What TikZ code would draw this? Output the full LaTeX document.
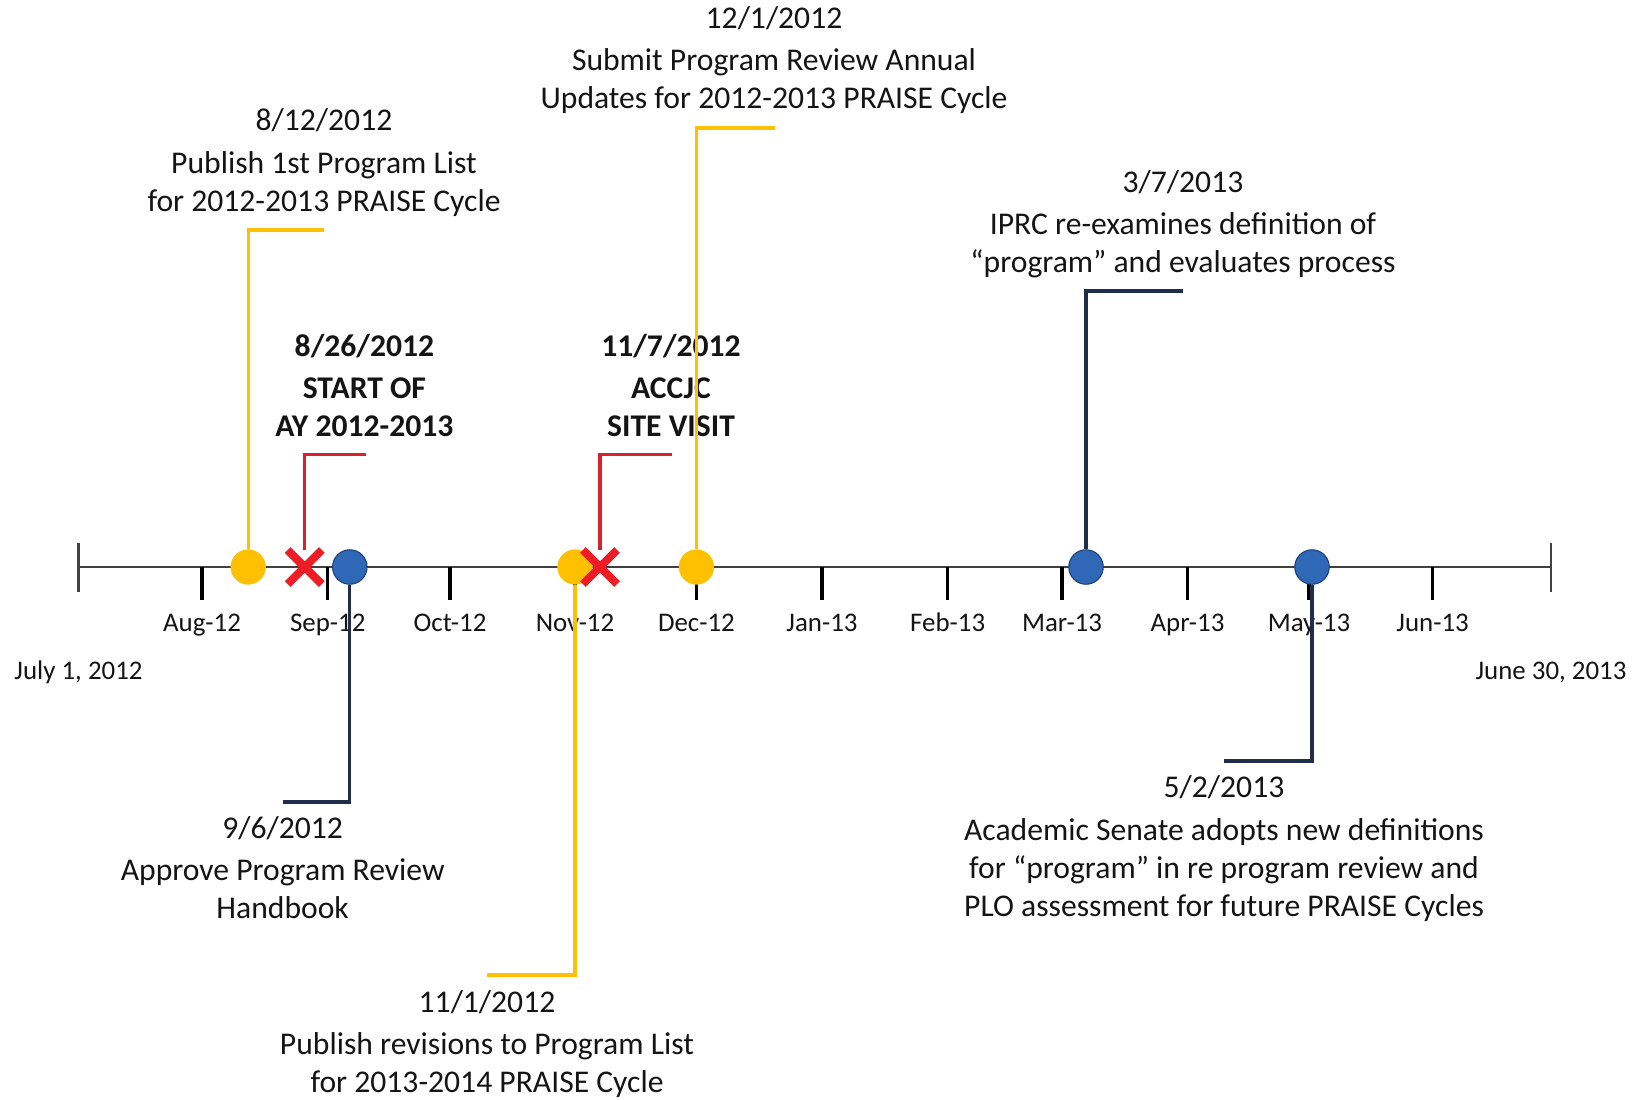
\documentclass[tikz,border=0pt]{standalone}
\usepackage{fontspec}
\setmainfont{Carlito}
\usetikzlibrary{positioning,shapes.misc}
\definecolor{gold}{RGB}{255,192,0}
\definecolor{mblue}{RGB}{46,104,182}
\definecolor{dblue}{RGB}{30,62,122}
\definecolor{navy}{RGB}{32,45,75}
\definecolor{xred}{RGB}{238,28,36}
\definecolor{lred}{RGB}{214,34,44}
\definecolor{ink}{RGB}{20,20,20}
\definecolor{axisgray}{RGB}{64,64,64}
\tikzset{
  evt/.style={align=center, text=ink, anchor=north, inner sep=0pt,
              font=\fontsize{18}{21.6}\selectfont},
  keyevt/.style={evt, font=\fontsize{18}{21.6}\selectfont\bfseries},
  mon/.style={text=ink, inner sep=0pt, anchor=base, font=\fontsize{15.3}{18}\selectfont},
  ydot/.style={circle, fill=gold, draw=gold, minimum size=0.69cm, inner sep=0pt},
  bdot/.style={circle, fill=mblue, draw=dblue, line width=0.6pt, minimum size=0.69cm, inner sep=0pt},
  xmk/.style={cross out, draw=xred, line width=4.6pt, minimum size=0.52cm, inner sep=0pt},
  ylead/.style={draw=gold, line width=1.8pt},
  nlead/.style={draw=navy, line width=1.8pt},
  rlead/.style={draw=lred, line width=1.8pt},
  axl/.style={draw=axisgray, line width=1.3pt},
  tk/.style={draw=black, line width=1.8pt},
}

\begin{document}
\begin{tikzpicture}[x=0.02cm, y=-0.02cm]
  \useasboundingbox (0,0) rectangle (1642,1099);

  % ---- axis -------------------------------------------------------
  \draw[axl] (78.5,567) -- (1551,567);
  \draw[axl] (78.5,543) -- (78.5,592);
  \draw[axl] (1551,543) -- (1551,592);
  \node[mon] (start) at (78.5,679) {July 1, 2012};
  \node[mon] (end)   at (1551,679) {June 30, 2013};

  % month ticks
  \draw[tk] (202,567) -- (202,600);     \node[mon] (aug) at (202,631) {Aug-12};
  \draw[tk] (327.8,567) -- (327.8,600); \node[mon] (sep) at (327.8,631) {Sep-12};
  \draw[tk] (450,567) -- (450,600);     \node[mon] (oct) at (450,631) {Oct-12};
  \draw[tk] (575,567) -- (575,600);     \node[mon] (nov) at (575,631) {Nov-12};
  \draw[tk] (696.4,567) -- (696.4,600); \node[mon] (dec) at (696.4,631) {Dec-12};
  \draw[tk] (822,567) -- (822,600);     \node[mon] (jan) at (822,631) {Jan-13};
  \draw[tk] (947.7,567) -- (947.7,600); \node[mon] (feb) at (947.7,631) {Feb-13};
  \draw[tk] (1062,567) -- (1062,600);   \node[mon] (mar) at (1062,631) {Mar-13};
  \draw[tk] (1187.5,567) -- (1187.5,600); \node[mon] (apr) at (1187.5,631) {Apr-13};
  \draw[tk] (1309,567) -- (1309,600);   \node[mon] (may) at (1309,631) {May-13};
  \draw[tk] (1432.6,567) -- (1432.6,600); \node[mon] (jun) at (1432.6,631) {Jun-13};

  % ---- events on the line -----------------------------------------
  \node[ydot] (aug12) at (248.2,567) {};
  \node[bdot] (sep6)  at (349.8,567) {};
  \node[ydot] (nov1)  at (575,567) {};
  \node[ydot] (dec1)  at (696.4,567) {};
  \node[bdot] (mar7)  at (1086,567) {};
  \node[bdot] (may2)  at (1312,567) {};
  \node[xmk]  (aug26) at (304.7,567) {};
  \node[xmk]  (nov7)  at (600,567) {};

  % ---- labels above -----------------------------------------------
  \node[evt] (l812) at (324,108.5)
    {8/12/2012\\[2.5pt] Publish 1st Program List\\ for 2012-2013 PRAISE Cycle};
  \node[evt] (l121) at (774,6)
    {12/1/2012\\[2.5pt] Submit Program Review Annual\\ Updates for 2012-2013 PRAISE Cycle};
  \node[evt] (l37) at (1183,170)
    {3/7/2013\\[2.5pt] IPRC re-examines definition of\\ ``program'' and evaluates process};
  \node[keyevt] (l826) at (364.4,333.6)
    {8/26/2012\\[2.5pt] START OF\\ AY 2012-2013};
  \node[keyevt] (l117) at (671,333.6)
    {11/7/2012\\[2.5pt] ACCJC\\ SITE VISIT};

  % ---- labels below -----------------------------------------------
  \node[evt] (l96) at (282.7,816)
    {9/6/2012\\[2.5pt] Approve Program Review\\ Handbook};
  \node[evt] (l111) at (487,990)
    {11/1/2012\\[2.5pt] Publish revisions to Program List\\ for 2013-2014 PRAISE Cycle};
  \node[evt] (l52) at (1224,775.5)
    {5/2/2013\\[2.5pt] Academic Senate adopts new definitions\\ for ``program'' in re program review and\\ PLO assessment for future PRAISE Cycles};

  % ---- leaders ----------------------------------------------------
  \coordinate (c812) at (324,230);
  \coordinate (c121) at (775,128);
  \coordinate (c37)  at (1183,291);
  \coordinate (c826) at (365.5,454.5);
  \coordinate (c117) at (672,454.5);
  \coordinate (c96)  at (283,802);
  \coordinate (c111) at (487,975);
  \coordinate (c52)  at (1224,761);
  \draw[ylead] (aug12) |- (c812);
  \draw[ylead] (dec1) |- (c121);
  \draw[nlead] (mar7) |- (c37);
  \draw[rlead] (aug26) |- (c826);
  \draw[rlead] (nov7) |- (c117);
  \draw[nlead] (sep6) |- (c96);
  \draw[ylead] (nov1) |- (c111);
  \draw[nlead] (may2) |- (c52);
\end{tikzpicture}
\end{document}
